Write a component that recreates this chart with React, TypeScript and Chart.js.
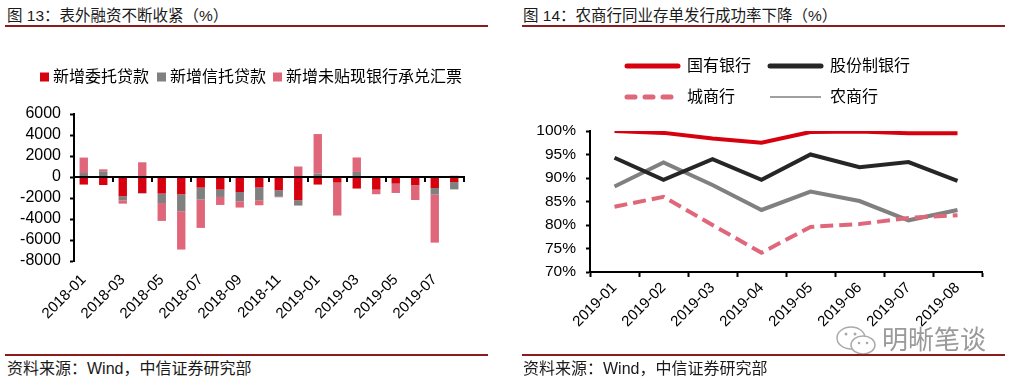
import React, { useEffect, useRef } from 'react';
import { Chart, registerables } from 'chart.js';

Chart.register(...registerables);

const FONT = "'Liberation Sans', Arial, 'Noto Sans CJK SC', sans-serif";

// ---------- Figure 13 data (亿元) ----------
const barMonths = [
  '2018-01', '2018-02', '2018-03', '2018-04', '2018-05', '2018-06', '2018-07', '2018-08', '2018-09', '2018-10',
  '2018-11', '2018-12', '2019-01', '2019-02', '2019-03', '2019-04', '2019-05', '2019-06', '2019-07', '2019-08',
];
const entrustedLoans = [-720, -760, -1840, -1530, -1580, -1650, -1010, -1200, -1430, -1000, -1260, -2220, -720, -530, -1100, -1200, -630, -790, -1050, -480];
const trustLoans = [380, 540, -380, -40, -900, -1610, -1140, -700, -880, -1210, -620, -500, 330, -30, 480, -40, -30, -50, -630, -700];
const undiscountedBills = [1470, 190, -320, 1400, -1700, -3650, -2700, -760, -600, -480, -50, 1000, 3760, -3110, 1380, -400, -860, -1350, -4570, 120];
const barSeriesNames = ['新增委托贷款', '新增信托贷款', '新增未贴现银行承兑汇票'];
const barYMin = -8000;
const barYMax = 6000;
const barYStep = 2000;

// ---------- Figure 14 data (%) ----------
const lineMonths = ['2019-01', '2019-02', '2019-03', '2019-04', '2019-05', '2019-06', '2019-07', '2019-08'];
const stateOwnedBanks = [100, 99.6, 98.4, 97.5, 99.8, 99.9, 99.5, 99.5];
const jointStockBanks = [94.3, 89.6, 94.0, 89.6, 95.0, 92.3, 93.4, 89.4];
const cityCommercialBanks = [83.9, 86.0, 80.0, 74.1, 79.6, 80.2, 81.5, 82.1];
const ruralCommercialBanks = [88.2, 93.3, 88.5, 83.2, 87.1, 85.1, 81.0, 83.2];
const lineSeriesNames = ['国有银行', '股份制银行', '城商行', '农商行'];
const lineYMin = 70;
const lineYMax = 100;
const lineYStep = 5;

const RED = '#D7000F';
const GRAY = '#808080';
const PINK = '#E0667A';
const DARK = '#262626';

type LegendItem = { x: number; y: number; color?: string; width?: number; dash?: number[]; cap?: CanvasLineCap };

function makeLegendPlugin(kind: 'box' | 'line', items: LegendItem[], size: number, markLen: number, gap: number) {
  return {
    id: 'placedLegend',
    afterDraw(chart: any) {
      const ctx = chart.ctx as CanvasRenderingContext2D;
      ctx.save();
      chart.data.datasets.forEach((ds: any, i: number) => {
        const it = items[i];
        if (!it) return;
        let textX = 0;
        if (kind === 'box') {
          ctx.fillStyle = ds.backgroundColor;
          ctx.fillRect(it.x, it.y - markLen / 2, markLen, markLen);
          textX = it.x + markLen + gap;
        } else {
          ctx.strokeStyle = it.color ?? ds.borderColor;
          ctx.lineWidth = it.width ?? ds.borderWidth;
          ctx.setLineDash(it.dash ?? []);
          ctx.lineCap = it.cap ?? 'round';
          ctx.beginPath();
          ctx.moveTo(it.x, it.y);
          ctx.lineTo(it.x + markLen, it.y);
          ctx.stroke();
          ctx.setLineDash([]);
          textX = it.x + markLen + gap;
        }
        ctx.fillStyle = '#000';
        ctx.font = `${size}px ${FONT}`;
        ctx.textBaseline = 'middle';
        ctx.textAlign = 'left';
        ctx.fillText(ds.label, textX, it.y + 1);
      });
      ctx.restore();
    },
  };
}

const zeroAxisPlugin = {
  id: 'zeroAxis',
  afterDatasetsDraw(chart: any) {
    const xs = chart.scales.x;
    const ys = chart.scales.y;
    const ctx = chart.ctx as CanvasRenderingContext2D;
    const y0 = ys.getPixelForValue(0);
    const n = chart.data.labels.length;
    const w = (xs.right - xs.left) / n;
    ctx.save();
    ctx.strokeStyle = '#000';
    ctx.lineWidth = 2;
    ctx.beginPath();
    ctx.moveTo(xs.left, y0);
    ctx.lineTo(xs.right + 1, y0);
    for (let k = 2; k <= n; k += 2) {
      const px = Math.round(xs.left + k * w);
      ctx.moveTo(px, y0);
      ctx.lineTo(px, y0 + 5);
    }
    ctx.stroke();
    ctx.restore();
  },
};

function BarChart() {
  const ref = useRef<HTMLCanvasElement>(null);
  useEffect(() => {
    const chart = new Chart(ref.current!, {
      type: 'bar',
      data: {
        labels: barMonths,
        datasets: [
          { label: barSeriesNames[0], data: entrustedLoans, backgroundColor: RED },
          { label: barSeriesNames[1], data: trustLoans, backgroundColor: GRAY },
          { label: barSeriesNames[2], data: undiscountedBills, backgroundColor: PINK },
        ],
      },
      options: {
        animation: false,
        responsive: false,
        devicePixelRatio: 1,
        datasets: { bar: { barPercentage: 0.43, categoryPercentage: 1 } },
        layout: { padding: { top: 69, left: 0, right: 41, bottom: 0 } },
        plugins: { legend: { display: false }, tooltip: { enabled: false } },
        scales: {
          x: {
            stacked: true,
            border: { display: false },
            grid: { display: false },
            afterFit: (s: any) => { s.height = 64; },
            ticks: {
              autoSkip: false,
              maxRotation: 45,
              minRotation: 45,
              padding: 2,
              color: '#000',
              font: { size: 15, family: FONT },
              callback: (_v: any, i: number) => (i % 2 === 0 ? barMonths[i] : ''),
            },
          },
          y: {
            stacked: true,
            min: barYMin,
            max: barYMax,
            afterFit: (s: any) => { s.width = 74; },
            border: { display: true, color: '#000', width: 2 },
            grid: { drawOnChartArea: false, drawTicks: true, tickLength: 4, tickColor: '#000', tickWidth: 2 },
            ticks: {
              stepSize: barYStep,
              autoSkip: false,
              padding: 9,
              color: '#000',
              font: { size: 16, family: FONT },
              callback: (v: any) => String(v),
            },
          },
        },
      },
      plugins: [
        zeroAxisPlugin,
        makeLegendPlugin('box', [{ x: 40, y: 32 }, { x: 157, y: 32 }, { x: 273, y: 32 }], 16, 9, 4),
      ],
    } as any);
    return () => chart.destroy();
  }, []);
  return <canvas ref={ref} width={505} height={280} style={{ position: 'absolute', left: 0, top: 45, width: 505, height: 280 }} />;
}

function LineChart() {
  const ref = useRef<HTMLCanvasElement>(null);
  useEffect(() => {
    const chart = new Chart(ref.current!, {
      type: 'line',
      data: {
        labels: lineMonths,
        datasets: [
          { label: lineSeriesNames[0], data: stateOwnedBanks, borderColor: RED, borderWidth: 4 },
          { label: lineSeriesNames[1], data: jointStockBanks, borderColor: DARK, borderWidth: 4 },
          { label: lineSeriesNames[2], data: cityCommercialBanks, borderColor: PINK, borderWidth: 4, borderDash: [13, 6] },
          { label: lineSeriesNames[3], data: ruralCommercialBanks, borderColor: GRAY, borderWidth: 4 },
        ],
      },
      options: {
        animation: false,
        responsive: false,
        devicePixelRatio: 1,
        elements: { point: { radius: 0 }, line: { tension: 0, fill: false } },
        layout: { padding: { top: 91, left: 0, right: 33, bottom: 0 } },
        plugins: { legend: { display: false }, tooltip: { enabled: false } },
        scales: {
          x: {
            offset: true,
            afterFit: (s: any) => { s.height = 58; },
            border: { display: true, color: '#000', width: 2 },
            grid: { offset: true, drawOnChartArea: false, drawTicks: true, tickLength: 5, tickColor: '#000', tickWidth: 2 },
            ticks: {
              autoSkip: false,
              maxRotation: 45,
              minRotation: 45,
              padding: 2,
              color: '#000',
              font: { size: 15, family: FONT },
            },
          },
          y: {
            min: lineYMin,
            max: lineYMax,
            afterFit: (s: any) => { s.width = 80; },
            border: { display: true, color: '#000', width: 2 },
            grid: { drawOnChartArea: false, drawTicks: true, tickLength: 4, tickColor: '#000', tickWidth: 2 },
            ticks: {
              stepSize: lineYStep,
              autoSkip: false,
              padding: 10,
              color: '#000',
              font: { size: 15.5, family: FONT },
              callback: (v: any) => `${v}%`,
            },
          },
        },
      },
      plugins: [
        makeLegendPlugin('line', [
          { x: 117, y: 26, width: 5 },
          { x: 260, y: 26, width: 5 },
          { x: 117, y: 57, width: 5, dash: [8, 10] },
          { x: 260, y: 57, width: 1, color: '#404040', cap: 'butt' },
        ], 16, 51, 9),
      ],
    } as any);
    return () => chart.destroy();
  }, []);
  return <canvas ref={ref} width={505} height={290} style={{ position: 'absolute', left: 510, top: 40, width: 505, height: 290 }} />;
}

const titleStyle: React.CSSProperties = {
  position: 'absolute', top: 6, fontSize: 15.5, lineHeight: '20px', color: '#1a1a1a', whiteSpace: 'nowrap',
};
const sourceStyle: React.CSSProperties = {
  position: 'absolute', top: 359, fontSize: 16, lineHeight: '20px', color: '#1a1a1a', whiteSpace: 'nowrap',
};
const ruleStyle: React.CSSProperties = { position: 'absolute', height: 2, background: '#8C1C1C', width: 483 };

export default function App() {
  return (
    <div style={{ position: 'absolute', left: 0, top: 0, width: 1015, height: 386, background: '#fff', fontFamily: FONT, overflow: 'hidden' }}>
      <div style={{ ...titleStyle, left: 7 }}>图 13：表外融资不断收紧（%）</div>
      <div style={{ ...ruleStyle, left: 5, top: 25 }} />
      <div style={{ ...titleStyle, left: 523 }}>图 14：农商行同业存单发行成功率下降（%）</div>
      <div style={{ ...ruleStyle, left: 522, top: 25 }} />
      <BarChart />
      <LineChart />
      <svg style={{ position: 'absolute', left: 834, top: 324 }} width={46} height={34}>
        <ellipse cx={17} cy={14} rx={14} ry={11} fill="none" stroke="#aaa" strokeWidth={1.5} />
        <ellipse cx={29} cy={21} rx={12} ry={9} fill="#fff" stroke="#aaa" strokeWidth={1.5} />
        <circle cx={12} cy={10} r={1.5} fill="#aaa" />
        <circle cx={21} cy={10} r={1.5} fill="#aaa" />
        <circle cx={25} cy={19} r={1.3} fill="#aaa" />
        <circle cx={33} cy={19} r={1.3} fill="#aaa" />
      </svg>
      <div style={{ position: 'absolute', left: 882, top: 324, fontSize: 26, lineHeight: '32px', color: '#9a9a9a', whiteSpace: 'nowrap' }}>明晰笔谈</div>
      <div style={{ ...ruleStyle, left: 5, top: 354 }} />
      <div style={{ ...ruleStyle, left: 522, top: 354 }} />
      <div style={{ ...sourceStyle, left: 7 }}>资料来源：Wind，中信证券研究部</div>
      <div style={{ ...sourceStyle, left: 523 }}>资料来源：Wind，中信证券研究部</div>
    </div>
  );
}
